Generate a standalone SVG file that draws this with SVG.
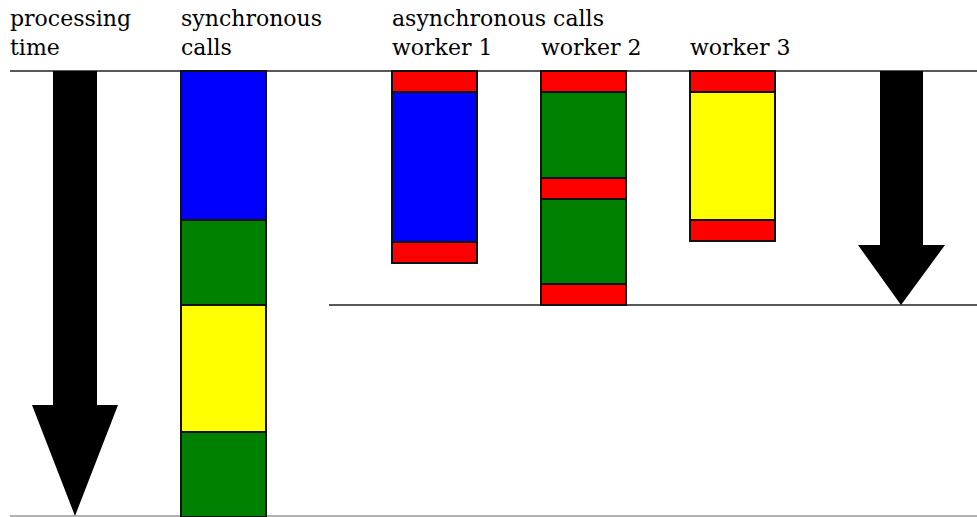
<svg xmlns="http://www.w3.org/2000/svg" width="977" height="517" viewBox="0 0 977 517">
<style>
text{font-family:"DejaVu Serif","Liberation Serif",serif;font-size:22px;fill:#000}
.seg{stroke:#111;stroke-width:2}
.r{fill:#ff0000}.b{fill:#0000ff}.g{fill:#008000}.y{fill:#ffff00}
.ln{stroke:#222;stroke-width:1.5;fill:none}
.ar{fill:#000}
</style>
<rect width="977" height="517" fill="#fff"/>
<g id="labels">
<text x="10" y="26">processing</text>
<text x="10" y="55">time</text>
<text x="181" y="26">synchronous</text>
<text x="181" y="55">calls</text>
<text x="392" y="26">asynchronous calls</text>
<text x="392" y="55">worker 1</text>
<text x="541" y="55">worker 2</text>
<text x="690" y="55">worker 3</text>
</g>
<g id="lines">
<line class="ln" x1="10" y1="71" x2="977" y2="71"/>
<line class="ln" x1="329" y1="305" x2="977" y2="305"/>
<line x1="10" y1="516" x2="977" y2="516" stroke="#999" stroke-width="1.5"/>
</g>
<g id="arrow-left"><polygon class="ar" points="53,71 97,71 97,405 118,405 75,516 32,405 53,405"/></g>
<g id="arrow-right"><polygon class="ar" points="880,71 923,71 923,245 945,245 901,305 858,245 880,245"/></g>
<g id="sync">
<rect class="seg b" x="181" y="71" width="85" height="149"/>
<rect class="seg g" x="181" y="220" width="85" height="85"/>
<rect class="seg y" x="181" y="305" width="85" height="127"/>
<rect class="seg g" x="181" y="432" width="85" height="85"/>
</g>
<g id="worker1">
<rect class="seg r" x="392" y="71" width="85" height="21"/>
<rect class="seg b" x="392" y="92" width="85" height="150"/>
<rect class="seg r" x="392" y="242" width="85" height="21"/>
</g>
<g id="worker2">
<rect class="seg r" x="541" y="71" width="85" height="21"/>
<rect class="seg g" x="541" y="92" width="85" height="86"/>
<rect class="seg r" x="541" y="178" width="85" height="21"/>
<rect class="seg g" x="541" y="199" width="85" height="85"/>
<rect class="seg r" x="541" y="284" width="85" height="21"/>
</g>
<g id="worker3">
<rect class="seg r" x="690" y="71" width="85" height="21"/>
<rect class="seg y" x="690" y="92" width="85" height="128"/>
<rect class="seg r" x="690" y="220" width="85" height="21"/>
</g>
</svg>
